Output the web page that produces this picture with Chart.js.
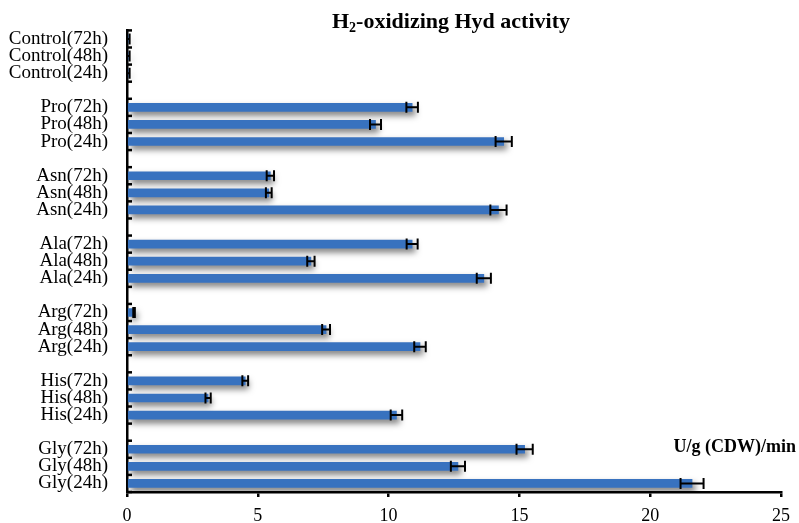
<!DOCTYPE html>
<html>
<head>
<meta charset="utf-8">
<script src="https://cdn.jsdelivr.net/npm/chart.js@4.4.1/dist/chart.umd.min.js"></script>
<style>
    html, body { margin: 0; padding: 0; background: #fff; }
    #wrap { width: 799px; height: 523px; }
</style>
</head>
<body>
<div id="wrap"><canvas id="barchart" width="799" height="523"></canvas></div>
<script>
// categories, top to bottom ('' = gap between groups)
var categorie = ['Control(72h)', 'Control(48h)', 'Control(24h)', '',
    'Pro(72h)', 'Pro(48h)', 'Pro(24h)', '',
    'Asn(72h)', 'Asn(48h)', 'Asn(24h)', '',
    'Ala(72h)', 'Ala(48h)', 'Ala(24h)', '',
    'Arg(72h)', 'Arg(48h)', 'Arg(24h)', '',
    'His(72h)', 'His(48h)', 'His(24h)', '',
    'Gly(72h)', 'Gly(48h)', 'Gly(24h)'];

// activity, U/g (CDW)/min
var attivita = [0.05, 0.05, 0.05, null,
    10.9, 9.5, 14.4, null,
    5.48, 5.42, 14.2, null,
    10.9, 7.03, 13.64, null,
    0.27, 7.61, 11.2, null,
    4.52, 3.1, 10.3, null,
    15.2, 12.65, 21.6];

// standard deviation
var errori = [0.05, 0.05, 0.05, null,
    0.22, 0.21, 0.31, null,
    0.14, 0.11, 0.31, null,
    0.21, 0.14, 0.27, null,
    0.03, 0.15, 0.22, null,
    0.11, 0.1, 0.22, null,
    0.31, 0.27, 0.44];

var xTicks = [0, 5, 10, 15, 20, 25];

var titolo = ['H', '2', '-oxidizing Hyd activity'];
var unita = 'U/g (CDW)/min';

var serif = "'Liberation Serif', 'Times New Roman', serif";

// shadow under the bars
var ombra = {
    id: 'ombra',
    beforeDatasetsDraw: function(chart) {
        var ctx = chart.ctx;
        ctx.save();
        ctx.shadowColor = 'rgba(0,0,0,0.5)';
        ctx.shadowBlur = 6;
        ctx.shadowOffsetX = 3;
        ctx.shadowOffsetY = 4;
    },
    afterDatasetsDraw: function(chart) {
        chart.ctx.restore();
    }
};

// error bars + inward y ticks + title + unit
var extra = {
    id: 'extra',
    afterDraw: function(chart) {
        var ctx = chart.ctx;
        var xs = chart.scales.x;
        var ys = chart.scales.y;
        var area = chart.chartArea;
        var meta = chart.getDatasetMeta(0);

        ctx.save();
        ctx.strokeStyle = '#000';
        ctx.lineWidth = 2;
        meta.data.forEach(function(bar, i) {
            if (attivita[i] == null) return;
            var x1 = xs.getPixelForValue(attivita[i] - errori[i]);
            var x2 = xs.getPixelForValue(attivita[i] + errori[i]);
            var y = bar.y;
            ctx.beginPath();
            ctx.moveTo(x1, y); ctx.lineTo(x2, y);
            ctx.moveTo(x1, y - 5.5); ctx.lineTo(x1, y + 5.5);
            ctx.moveTo(x2, y - 5.5); ctx.lineTo(x2, y + 5.5);
            ctx.stroke();
        });

        // tick marks between categories, pointing into the plot
        ctx.lineWidth = 2.5;
        for (var k = 0; k <= categorie.length; k++) {
            var ty = ys.getPixelForValue(k - 0.5);
            ctx.beginPath();
            ctx.moveTo(area.left, ty);
            ctx.lineTo(area.left + 5, ty);
            ctx.stroke();
        }

        // title with subscript
        ctx.fillStyle = '#000';
        ctx.textBaseline = 'alphabetic';
        ctx.textAlign = 'left';
        var big = 'bold 22px ' + serif;
        var small = 'bold 14px ' + serif;
        ctx.font = big;
        var w1 = ctx.measureText(titolo[0]).width;
        var w3 = ctx.measureText(titolo[2]).width;
        ctx.font = small;
        var w2 = ctx.measureText(titolo[1]).width;
        var cx = (area.left + area.right) / 2 - 3;
        var sx = cx - (w1 + w2 + w3) / 2;
        var base = 28;
        ctx.font = big;
        ctx.fillText(titolo[0], sx, base);
        ctx.font = small;
        ctx.fillText(titolo[1], sx + w1, base + 4);
        ctx.font = big;
        ctx.fillText(titolo[2], sx + w1 + w2, base);

        // unit label
        ctx.font = 'bold 18px ' + serif;
        ctx.textAlign = 'right';
        ctx.fillText(unita, area.right + 15, 452);
        ctx.restore();
    }
};

function createBarChart() {
    var ctx = document.getElementById('barchart').getContext('2d');
    var chart = new Chart(ctx, {
        type: 'bar',
        data: {
            labels: categorie,
            datasets: [{
                data: attivita,
                backgroundColor: '#3872BF',
                borderWidth: 0,
                barThickness: 8
            }]
        },
        options: {
            responsive: false,
            animation: false,
            indexAxis: 'y',
            layout: { padding: { top: 26, right: 18, left: 0, bottom: 0 } },
            plugins: {
                legend: { display: false },
                title: { display: false },
                tooltip: { enabled: false }
            },
            scales: {
                x: {
                    min: xTicks[0],
                    max: xTicks[xTicks.length - 1],
                    afterBuildTicks: function(scale) {
                        scale.ticks = xTicks.map(function(v) { return { value: v }; });
                    },
                    afterFit: function(scale) { scale.height = 31; },
                    border: { color: '#000', width: 2.5 },
                    grid: {
                        drawOnChartArea: false,
                        drawTicks: true,
                        tickLength: 5,
                        color: '#000',
                        lineWidth: 2.5
                    },
                    ticks: {
                        padding: 8,
                        color: '#000',
                        font: { family: serif, size: 18 }
                    }
                },
                y: {
                    afterFit: function(scale) { scale.width = 127; },
                    border: { color: '#000', width: 2.5 },
                    grid: { display: false, drawTicks: false },
                    ticks: {
                        autoSkip: false,
                        padding: 19,
                        color: '#000',
                        font: { family: serif, size: 19 }
                    }
                }
            }
        },
        plugins: [ombra, extra]
    });
}

createBarChart();
</script>
</body>
</html>
